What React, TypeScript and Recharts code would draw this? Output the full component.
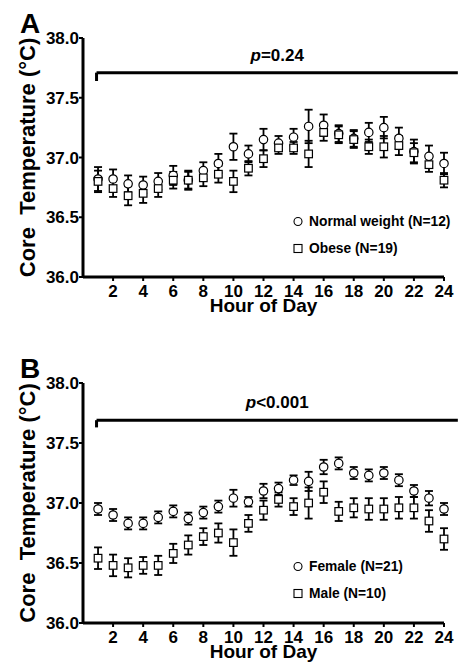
import React from "react";
import { ScatterChart, Scatter, XAxis, YAxis, ErrorBar, ReferenceLine, Legend } from "recharts";

const hours = [1, 2, 3, 4, 5, 6, 7, 8, 9, 10, 11, 12, 13, 14, 15, 16, 17, 18, 19, 20, 21, 22, 23, 24];

// panel A
const normalWeight = [36.82, 36.82, 36.78, 36.77, 36.8, 36.85, 36.81, 36.89, 36.95, 37.09, 37.03, 37.15, 37.12, 37.17, 37.26, 37.27, 37.2, 37.16, 37.21, 37.25, 37.16, 37.05, 37.01, 36.95];
const normalWeightErr = [0.1, 0.08, 0.07, 0.07, 0.07, 0.08, 0.08, 0.07, 0.08, 0.11, 0.07, 0.09, 0.06, 0.07, 0.14, 0.09, 0.07, 0.07, 0.08, 0.09, 0.09, 0.1, 0.09, 0.09];
const obese = [36.8, 36.74, 36.68, 36.7, 36.74, 36.81, 36.81, 36.83, 36.86, 36.8, 36.91, 36.99, 37.08, 37.08, 37.03, 37.21, 37.19, 37.15, 37.09, 37.09, 37.1, 37.04, 36.94, 36.81];
const obeseErr = [0.09, 0.07, 0.08, 0.08, 0.07, 0.07, 0.07, 0.07, 0.07, 0.09, 0.06, 0.07, 0.05, 0.05, 0.11, 0.07, 0.07, 0.07, 0.06, 0.09, 0.08, 0.08, 0.06, 0.06];

// panel B
const female = [36.95, 36.9, 36.83, 36.83, 36.88, 36.93, 36.87, 36.92, 36.97, 37.04, 37.01, 37.1, 37.12, 37.19, 37.18, 37.3, 37.33, 37.25, 37.23, 37.25, 37.19, 37.1, 37.04, 36.95];
const femaleErr = [0.05, 0.05, 0.05, 0.05, 0.05, 0.05, 0.05, 0.05, 0.05, 0.07, 0.04, 0.06, 0.05, 0.04, 0.08, 0.06, 0.05, 0.05, 0.05, 0.05, 0.05, 0.05, 0.06, 0.05];
const male = [36.54, 36.48, 36.46, 36.48, 36.48, 36.58, 36.65, 36.72, 36.75, 36.67, 36.83, 36.94, 37.03, 36.97, 37.0, 37.09, 36.93, 36.96, 36.95, 36.95, 36.96, 36.96, 36.85, 36.7];
const maleErr = [0.09, 0.09, 0.08, 0.07, 0.08, 0.08, 0.08, 0.07, 0.08, 0.11, 0.07, 0.08, 0.06, 0.07, 0.13, 0.09, 0.08, 0.08, 0.09, 0.09, 0.09, 0.09, 0.09, 0.09];

const xTicks = [2, 4, 6, 8, 10, 12, 14, 16, 18, 20, 22, 24];
const yTicks = [36, 36.5, 37, 37.5, 38];

const FONT = "Liberation Sans, Arial, Helvetica, sans-serif";

const toPoints = (vals: number[], errs: number[]) =>
  hours.map((h, i) => ({ hour: h, temp: vals[i], err: errs[i] }));

const CircleDot = (props: any) => (
  <circle cx={props.cx} cy={props.cy} r={4.2} fill="#fff" stroke="#000" strokeWidth={1.2} />
);
const SquareDot = (props: any) => (
  <rect x={props.cx - 3.8} y={props.cy - 3.8} width={7.6} height={7.6} fill="#fff" stroke="#000" strokeWidth={1.2} />
);

// legend drawn as svg so the text size is exact
const legendContent = (labels: string[]) => () => (
  <svg width={166} height={54} style={{ display: "block", overflow: "visible" }}>
    {labels.map((l, i) => (
      <g key={l}>
        {i === 0 ? (
          <circle cx={6} cy={13.5} r={4} fill="#fff" stroke="#000" strokeWidth={1.1} />
        ) : (
          <rect x={2} y={36.5} width={8} height={8} fill="#fff" stroke="#000" strokeWidth={1.1} />
        )}
        <text
          x={17}
          y={13.5 + i * 27}
          dominantBaseline="central"
          fontFamily={FONT}
          fontWeight="bold"
          fontSize={13.8}
          fill="#000"
        >
          {l}
        </text>
      </g>
    ))}
  </svg>
);

const yLabel = (letter: string) => (props: any) => {
  const vb = props.viewBox;
  const cy = vb.y + vb.height / 2;
  return (
    <g>
      <text x={20} y={vb.y - 5} fontFamily={FONT} fontWeight="bold" fontSize={28} fill="#000">
        {letter}
      </text>
      <text
        x={27}
        y={cy}
        transform={`rotate(-90, 27, ${cy})`}
        textAnchor="middle"
        dominantBaseline="central"
        fontFamily={FONT}
        fontWeight="bold"
        fontSize={22}
        fill="#000"
        style={{ whiteSpace: "pre" }}
      >
        {"Core  Temperature (°C)"}
      </text>
    </g>
  );
};

const xLabel = (props: any) => {
  const vb = props.viewBox;
  return (
    <text x={vb.x + vb.width / 2} y={vb.y + 35} textAnchor="middle" fontFamily={FONT} fontWeight="bold" fontSize={19} fill="#000">
      Hour of Day
    </text>
  );
};

const pLabel = (rest: string) => (props: any) => {
  const vb = props.viewBox || {};
  const x = (vb.x ?? 0) + (vb.width ?? 0) / 2;
  return (
    <text x={x} y={(vb.y ?? 0) - 12} textAnchor="middle" fontFamily={FONT} fontWeight="bold" fontSize={17} fill="#000">
      <tspan fontStyle="italic">p</tspan>
      {rest}
    </text>
  );
};

type PanelProps = {
  letter: string;
  pText: string;
  bracketY: number;
  tickY: number;
  series: { name: string; data: { hour: number; temp: number; err: number }[]; shape: any }[];
  height: number;
  bottom: number;
};

function Panel({ letter, pText, bracketY, tickY, series, height, bottom }: PanelProps) {
  return (
    <ScatterChart width={460} height={height} margin={{ top: 38, right: 16, bottom, left: 0 }}>
      <XAxis
        type="number"
        dataKey="hour"
        domain={[0, 24]}
        ticks={xTicks}
        height={40}
        axisLine={{ stroke: "#000", strokeWidth: 3 }}
        tickLine={{ stroke: "#000", strokeWidth: 2 }}
        tickSize={4}
        tickMargin={4}
        tick={{ fill: "#000", fontSize: 17, fontWeight: "bold", fontFamily: FONT }}
        label={{ content: xLabel }}
      />
      <YAxis
        type="number"
        dataKey="temp"
        domain={[36, 38]}
        ticks={yTicks}
        width={83}
        axisLine={{ stroke: "#000", strokeWidth: 3 }}
        tickLine={{ stroke: "#000", strokeWidth: 2 }}
        tickSize={4}
        tickMargin={0}
        tickFormatter={(v: number) => v.toFixed(1)}
        tick={{ fill: "#000", fontSize: 17, fontWeight: "bold", fontFamily: FONT }}
        label={{ content: yLabel(letter) }}
      />
      <ReferenceLine
        segment={[
          { x: 0.9, y: bracketY },
          { x: 24.92, y: bracketY },
        ]}
        stroke="#000"
        strokeWidth={3}
        ifOverflow="visible"
        label={{ content: pLabel(pText) }}
      />
      <ReferenceLine
        segment={[
          { x: 0.9, y: bracketY },
          { x: 0.9, y: tickY },
        ]}
        stroke="#000"
        strokeWidth={3}
        ifOverflow="visible"
      />
      {series.map((s) => (
        <Scatter key={s.name} name={s.name} data={s.data} shape={s.shape} isAnimationActive={false}>
          <ErrorBar dataKey="err" direction="y" width={4} stroke="#000" strokeWidth={1.8} />
        </Scatter>
      ))}
      <Legend
        layout="vertical"
        align="center"
        verticalAlign="middle"
        content={legendContent(series.map((s) => s.name))}
        wrapperStyle={{ left: 292, top: 208, right: "auto", bottom: "auto", width: 166, height: 54 }}
      />
    </ScatterChart>
  );
}

export default function App() {
  return (
    <div style={{ position: "absolute", left: 0, top: 0, width: 460, height: 671, background: "#fff" }}>
      <div style={{ position: "absolute", left: 0, top: 0 }}>
        <Panel
          letter="A"
          pText="=0.24"
          bracketY={37.71}
          tickY={37.64}
          height={330}
          bottom={13}
          series={[
            { name: "Normal weight (N=12)", data: toPoints(normalWeight, normalWeightErr), shape: CircleDot },
            { name: "Obese (N=19)", data: toPoints(obese, obeseErr), shape: SquareDot },
          ]}
        />
      </div>
      <div style={{ position: "absolute", left: 0, top: 345 }}>
        <Panel
          letter="B"
          pText="<0.001"
          bracketY={37.69}
          tickY={37.63}
          height={326}
          bottom={8}
          series={[
            { name: "Female (N=21)", data: toPoints(female, femaleErr), shape: CircleDot },
            { name: "Male (N=10)", data: toPoints(male, maleErr), shape: SquareDot },
          ]}
        />
      </div>
    </div>
  );
}
